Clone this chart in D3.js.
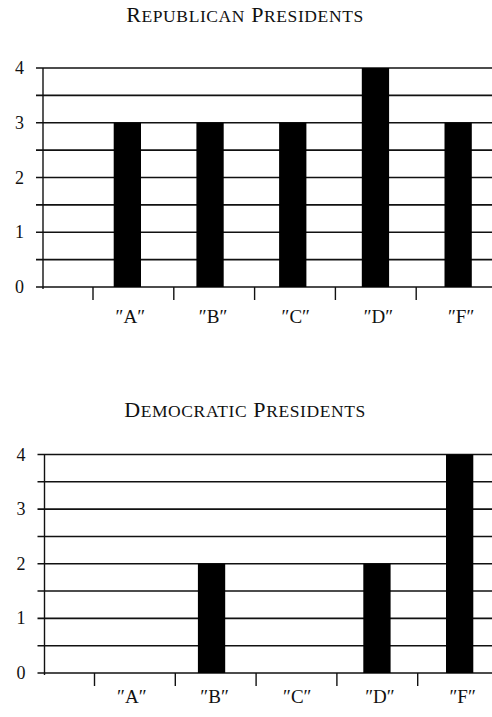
<!DOCTYPE html>
<html>
<head>
<meta charset="utf-8">
<script src="https://cdn.jsdelivr.net/npm/d3@7"></script>
<style>
  body { margin: 0; background: #fff; }
  text { font-family: "Liberation Serif", "DejaVu Serif", serif; fill: #111; }
</style>
</head>
<body>
<svg id="chart" width="492" height="717"></svg>
<script>
const categories = ["A", "B", "C", "D", "F"];
const republican = [3, 3, 3, 4, 3];
const democratic = [0, 2, 0, 2, 4];
const yTicks = [0, 1, 2, 3, 4];
const titles = ["Republican Presidents", "Democratic Presidents"];

const width = 492;
const svg = d3.select("#chart");

// fake small caps: first letter of each word big, rest smaller uppercase
function smallCaps(textSel, str, big, small) {
    str.split(" ").forEach((word, i) => {
        textSel.append("tspan").style("font-size", big + "px").text((i > 0 ? " " : "") + word[0].toUpperCase());
        textSel.append("tspan").style("font-size", small + "px").text(word.slice(1).toUpperCase());
    });
}

// one panel: title, half-step gridlines, left axis, bars, bottom ticks
function drawPanel(title, values, top, bottom, shift, titleY, labelY) {
    const g = svg.append("g");

    const y = d3.scaleLinear().domain([0, 4]).range([bottom, top]);
    const x = d3.scaleBand().domain(categories).range([86 + shift, 499.5 + shift]).paddingInner(0.67).paddingOuter(0.335);
    const xTick = d3.scaleBand().domain(categories).range([93 + shift, 497 + shift]);

    const t = g.append("text")
        .attr("x", 245)
        .attr("y", titleY)
        .attr("text-anchor", "middle")
        .style("letter-spacing", "0.6px");
    smallCaps(t, title, 22, 17.5);

    // gridlines every half unit
    g.selectAll(".grid")
        .data(d3.range(0, 4.01, 0.5))
        .enter().append("line")
        .attr("x1", 36 + shift)
        .attr("x2", width)
        .attr("y1", d => y(d))
        .attr("y2", d => y(d))
        .attr("stroke", "#111")
        .attr("stroke-width", 1.6);

    // left axis line
    g.append("line")
        .attr("x1", 43 + shift).attr("x2", 43 + shift)
        .attr("y1", y(4)).attr("y2", y(0) + 2)
        .attr("stroke", "#111")
        .attr("stroke-width", 1.4);

    g.selectAll(".ylab")
        .data(yTicks)
        .enter().append("text")
        .attr("x", 24 + shift)
        .attr("y", d => y(d) + 6)
        .attr("text-anchor", "end")
        .style("font-size", "18px")
        .text(d => d);

    g.selectAll(".bar")
        .data(values)
        .enter().append("rect")
        .attr("x", (d, i) => x(categories[i]))
        .attr("width", x.bandwidth())
        .attr("y", d => y(d))
        .attr("height", d => y(0) - y(d))
        .attr("fill", "#000");

    g.selectAll(".xtick")
        .data(categories)
        .enter().append("line")
        .attr("x1", d => xTick(d)).attr("x2", d => xTick(d))
        .attr("y1", y(0)).attr("y2", y(0) + 13)
        .attr("stroke", "#111")
        .attr("stroke-width", 1.4);

    g.selectAll(".xlab")
        .data(categories)
        .enter().append("text")
        .attr("x", d => x(d) + x.bandwidth() / 2 + 3)
        .attr("y", labelY)
        .attr("text-anchor", "middle")
        .style("font-size", "19px")
        .text(d => "\u2033" + d + "\u2033");
}

drawPanel(titles[0], republican, 68, 287, 0, 22, 323);
drawPanel(titles[1], democratic, 454.5, 673, 1.5, 417, 703);
</script>
</body>
</html>
